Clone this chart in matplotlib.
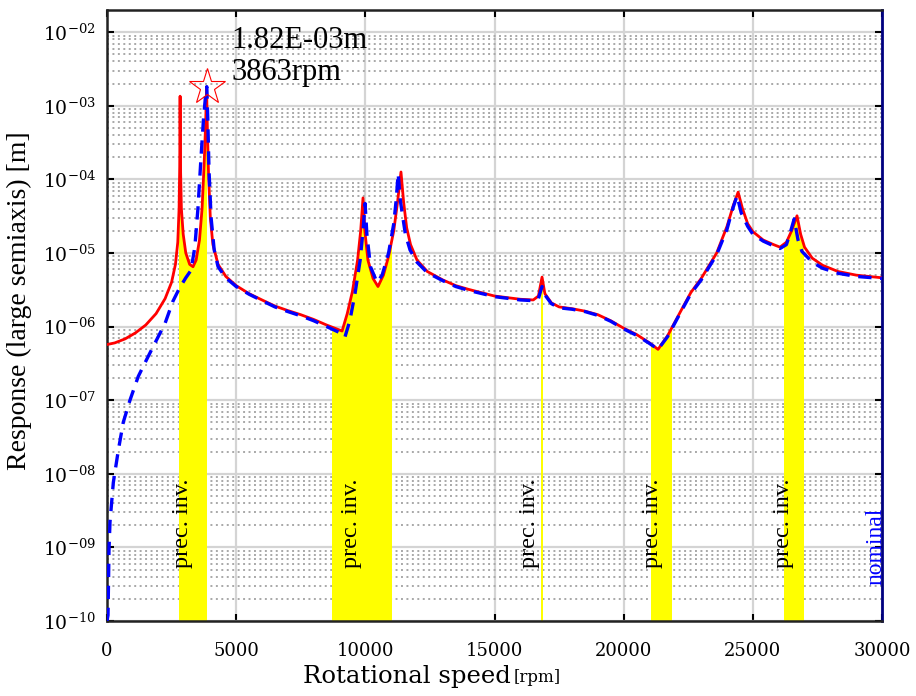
import matplotlib
matplotlib.use('Agg')
import matplotlib.pyplot as plt
import numpy as np
from matplotlib.patches import Rectangle
from matplotlib.ticker import LogLocator, FuncFormatter, MultipleLocator, NullFormatter

# response with damping (red, solid)
rpm_red = [0, 300, 700, 1100, 1500, 1900, 2250, 2500, 2650, 2740,
           2790, 2815, 2830, 2845, 2880, 2950, 3050, 3200, 3330, 3450,
           3580, 3680, 3760, 3820, 3855, 3880, 3930, 4000, 4100, 4300,
           4600, 5000, 5500, 6000, 6500, 7000, 7500, 8000, 8500, 9100,
           9300, 9500, 9700, 9820, 9910, 9980, 10100, 10300, 10490, 10700,
           10900, 11100, 11250, 11380, 11480, 11600, 11750, 12000, 12400, 13000,
           13500, 14000, 15000, 16000, 16500, 16700, 16840, 16950, 17200, 17500,
           18000, 18500, 19000, 19500, 20000, 20500, 21000, 21330, 21700, 22200,
           22600, 23000, 23600, 24000, 24250, 24430, 24600, 24800, 25000, 25400,
           25800, 26050, 26300, 26500, 26710, 26850, 27000, 27300, 27700, 28300,
           29000, 30000]
resp_red = [5.7e-7, 6.0e-7, 6.8e-7, 8.2e-7, 1.05e-6, 1.5e-6, 2.4e-6, 4.0e-6, 7.0e-6, 1.4e-5,
            4.0e-5, 1.5e-4, 1.35e-3, 1.5e-4, 4.0e-5, 1.8e-5, 1.0e-5, 7.0e-6, 6.5e-6, 8.0e-6,
            1.5e-5, 4.0e-5, 1.6e-4, 6.0e-4, 1.8e-3, 6.0e-4, 1.2e-4, 3.0e-5, 1.3e-5, 7.0e-6,
            4.8e-6, 3.6e-6, 2.8e-6, 2.3e-6, 1.9e-6, 1.65e-6, 1.45e-6, 1.25e-6, 1.05e-6, 8.7e-7,
            1.5e-6, 3.0e-6, 8.0e-6, 2.0e-5, 5.6e-5, 2.0e-5, 8.0e-6, 4.5e-6, 3.5e-6, 5.0e-6,
            9.0e-6, 2.0e-5, 5.0e-5, 1.26e-4, 5.0e-5, 2.2e-5, 1.3e-5, 8.0e-6, 5.6e-6, 4.3e-6,
            3.6e-6, 3.2e-6, 2.6e-6, 2.35e-6, 2.3e-6, 2.6e-6, 4.7e-6, 2.8e-6, 2.1e-6, 1.85e-6,
            1.75e-6, 1.62e-6, 1.45e-6, 1.2e-6, 9.5e-7, 7.8e-7, 6.0e-7, 4.9e-7, 7.5e-7, 1.6e-6,
            2.9e-6, 4.5e-6, 1.0e-5, 2.3e-5, 4.5e-5, 6.7e-5, 4.0e-5, 2.5e-5, 1.95e-5, 1.5e-5,
            1.3e-5, 1.2e-5, 1.4e-5, 2.0e-5, 3.2e-5, 1.8e-5, 1.2e-5, 8.5e-6, 6.8e-6, 5.6e-6,
            5.0e-6, 4.6e-6]

# nominal response (blue, dashed)
rpm_nom = [0, 40, 77, 116, 245, 440, 630, 890, 1210, 1540,
           1860, 2245, 2550, 2800, 3050, 3250, 3400, 3520, 3640, 3740,
           3810, 3863, 3900, 3950, 4030, 4150, 4300, 4600, 5000, 5500,
           6000, 6500, 7000, 7500, 8000, 8500, 9000, 9210, 9400, 9600,
           9800, 9920, 9990, 10060, 10200, 10450, 10650, 10900, 11100, 11200,
           11270, 11360, 11550, 11730, 12000, 12400, 13000, 13500, 14000, 15000,
           16000, 16500, 16700, 16840, 16950, 17200, 17500, 18000, 18500, 19000,
           19500, 20000, 20500, 21000, 21330, 21700, 22200, 22600, 23000, 23600,
           24000, 24200, 24390, 24550, 24800, 25000, 25400, 25800, 26050, 26300,
           26450, 26600, 26750, 26900, 27300, 27700, 28300, 29000, 30000]
resp_nom = [1.0e-10, 1.2e-10, 9e-10, 2.2e-9, 7.6e-9, 2.1e-8, 5.0e-8, 1.0e-7, 2.1e-7, 3.6e-7,
            6.0e-7, 1.1e-6, 2.2e-6, 3.3e-6, 4.6e-6, 5.8e-6, 1.2e-5, 4.0e-5, 2.0e-4, 7.0e-4,
            1.3e-3, 1.82e-3, 7.0e-4, 1.3e-4, 3.0e-5, 1.1e-5, 6.5e-6, 4.6e-6, 3.5e-6, 2.75e-6,
            2.25e-6, 1.85e-6, 1.6e-6, 1.4e-6, 1.2e-6, 1.0e-6, 8.3e-7, 7.2e-7, 1.2e-6, 2.8e-6,
            8.0e-6, 2.2e-5, 4.7e-5, 1.8e-5, 6.5e-6, 4.0e-6, 5.0e-6, 1.0e-5, 2.5e-5, 5.5e-5,
            1.2e-4, 5.0e-5, 1.8e-5, 1.1e-5, 7.5e-6, 5.4e-6, 4.2e-6, 3.5e-6, 3.1e-6, 2.55e-6,
            2.3e-6, 2.25e-6, 2.4e-6, 3.5e-6, 2.7e-6, 2.05e-6, 1.8e-6, 1.72e-6, 1.6e-6, 1.42e-6,
            1.18e-6, 9.3e-7, 7.6e-7, 5.9e-7, 4.9e-7, 7.3e-7, 1.55e-6, 2.8e-6, 4.3e-6, 9.5e-6,
            2.1e-5, 3.8e-5, 6.0e-5, 3.5e-5, 2.3e-5, 1.8e-5, 1.45e-5, 1.25e-5, 1.15e-5, 1.3e-5,
            1.9e-5, 2.9e-5, 1.5e-5, 1.05e-5, 7.5e-6, 6.2e-6, 5.3e-6, 4.8e-6, 4.5e-6]

# precession inversion ranges [rpm]
bands = [(2790, 3830), (8710, 10990), (16785, 16820), (21060, 21830), (26200, 26940)]
band_text = 'prec. inv.'

peak_rpm = 3863
peak_resp = 1.82e-3

plt.rcParams['mathtext.fontset'] = 'dejavuserif'

fig = plt.figure(figsize=(9.16, 6.96), dpi=100)
ax = fig.add_axes([0.1168, 0.1078, 0.8461, 0.8778])
ax.set_yscale('log')
ymin = 1e-10
ax.set_xlim(0, 30000)
ax.set_ylim(ymin, 2e-2)

# yellow bands, filled from the bottom up to the red curve
for lo, hi in bands:
    poly = ax.fill_between(rpm_red, ymin, resp_red, color='#ffff00', lw=0, zorder=1)
    poly.set_clip_path(Rectangle((lo, ymin), hi - lo, 1.0, transform=ax.transData))

ax.plot(rpm_red, resp_red, color='red', lw=2.0, zorder=3)
ax.plot(rpm_nom, resp_nom, color='#0000ff', lw=2.4, ls=(0, (4, 2.6)), zorder=4)

ax.plot(peak_rpm, peak_resp, marker='*', ms=27, mfc='none', mec='red', mew=0.8, zorder=5)
ax.text(4830, 10 ** -2.33, '%.2Em\n%drpm' % (peak_resp, peak_rpm), va='center', ha='left',
        fontfamily='Liberation Serif', fontsize=22, linespacing=1.12, zorder=6)

label_x = [2940, 9480, 16370, 21100, 26170]
for x in label_x:
    ax.text(x, 5.3e-10, band_text, rotation=90, ha='center', va='bottom',
            fontfamily='Liberation Serif', fontsize=17.5, zorder=6)
ax.text(29760, 3.1e-10, 'nominal', rotation=90, ha='center', va='bottom', color='#0000ff',
        fontfamily='Liberation Serif', fontsize=17, zorder=6)

# axes, ticks and grid
ax.xaxis.set_major_locator(MultipleLocator(5000))
ax.yaxis.set_major_locator(LogLocator(base=10, numticks=30))
ax.yaxis.set_minor_locator(LogLocator(base=10, subs=np.arange(2, 10), numticks=200))
ax.yaxis.set_minor_formatter(NullFormatter())
ax.yaxis.set_major_formatter(FuncFormatter(lambda v, p: r'$10^{%03d}$' % int(round(np.log10(v)))))

ax.set_axisbelow(True)
ax.grid(True, which='major', color='#d4d4d4', lw=1.6, ls='-')
ax.grid(True, which='minor', axis='y', color='#a8a8a8', lw=1.4, ls=(0, (1, 1.8)))

ax.tick_params(which='major', direction='in', top=True, right=True, length=5, width=1.5)
ax.tick_params(which='minor', length=0)
ax.tick_params(axis='x', pad=15, labelsize=13)
ax.tick_params(axis='y', pad=8, labelsize=13.5)
for lab in ax.get_xticklabels():
    lab.set_fontfamily('DejaVu Serif')

for s in ['left', 'bottom', 'top']:
    ax.spines[s].set_linewidth(1.8)
    ax.spines[s].set_color('#222222')
ax.spines['right'].set_linewidth(2.0)
ax.spines['right'].set_color('#000080')

ax.set_ylabel('Response (large semiaxis) [m]', fontfamily='Liberation Serif', fontsize=20)
ax.yaxis.set_label_coords(-0.097, 0.524)
ax.set_xlabel('Rotational speed', fontfamily='DejaVu Serif', fontsize=17.5)
ax.xaxis.set_label_coords(0.387, -0.072)
ax.annotate('[rpm]', xy=(1, 0), xycoords=ax.xaxis.label, xytext=(2, 1.5), textcoords='offset points',
            ha='left', va='bottom', fontfamily='DejaVu Serif', fontsize=12)

fig.savefig('out.png', dpi=100)
